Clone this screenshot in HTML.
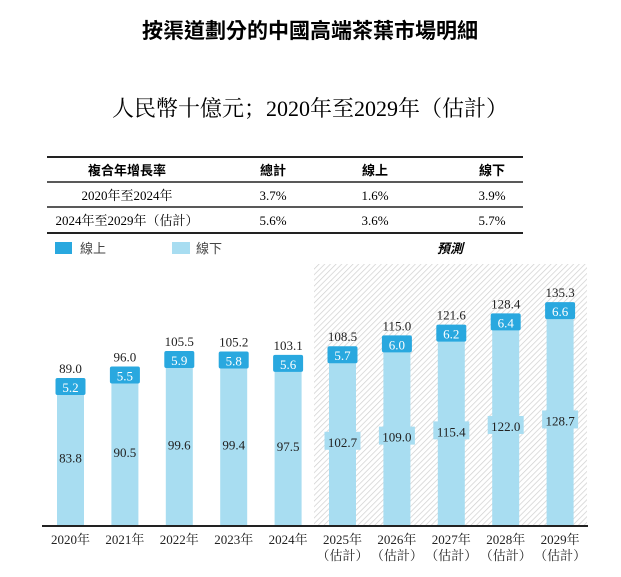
<!DOCTYPE html>
<html><head><meta charset="utf-8">
<style>
body{margin:0;background:#fff;width:621px;height:572px;overflow:hidden;font-family:"Liberation Serif","Noto Serif CJK SC",serif;}
svg text{font-family:"Liberation Serif","Noto Serif CJK SC",serif;}
.cjk{font-family:"Liberation Sans","Noto Sans CJK TC",sans-serif;}
</style></head>
<body>
<svg width="621" height="572" xmlns="http://www.w3.org/2000/svg">
<defs>
<pattern id="hatch" width="4" height="4" patternUnits="userSpaceOnUse" patternTransform="rotate(45)">
<rect width="4" height="4" fill="#fff"/><line x1="0" y1="0" x2="0" y2="4" stroke="#cfcfcf" stroke-width="1.4"/>
</pattern>
</defs>
<text x="310" y="38" text-anchor="middle" font-size="21" font-weight="bold" class="cjk">按渠道劃分的中國高端茶葉市場明細</text>
<text x="310" y="116" text-anchor="middle" font-size="22">人民幣十億元；2020年至2029年（估計）</text>
<g>
<line x1="47" y1="157" x2="523" y2="157" stroke="#222" stroke-width="2"/>
<line x1="47" y1="182" x2="523" y2="182" stroke="#222" stroke-width="1.5"/>
<line x1="47" y1="207" x2="523" y2="207" stroke="#222" stroke-width="1.5"/>
<line x1="47" y1="233" x2="523" y2="233" stroke="#222" stroke-width="2"/>
<g class="cjk" font-size="13" font-weight="bold" text-anchor="middle">
<text x="127" y="175" class="cjk">複合年增長率</text><text x="273" y="175" class="cjk">總計</text><text x="375" y="175" class="cjk">線上</text><text x="492" y="175" class="cjk">線下</text>
</g>
<g font-size="13" text-anchor="middle">
<text x="127" y="200">2020年至2024年</text><text x="273" y="200">3.7%</text><text x="375" y="200">1.6%</text><text x="492" y="200">3.9%</text>
<text x="127" y="225">2024年至2029年（估計）</text><text x="273" y="225">5.6%</text><text x="375" y="225">3.6%</text><text x="492" y="225">5.7%</text>
</g>
</g>
<g>
<rect x="55" y="242" width="17" height="12" fill="#29a8df"/>
<text x="80" y="253" font-size="13" class="cjk" fill="#444">線上</text>
<rect x="172" y="242" width="18" height="12" fill="#a8ddf1"/>
<text x="196" y="253" font-size="13" class="cjk" fill="#444">線下</text>
</g>
<rect x="314" y="264" width="273" height="262" fill="url(#hatch)"/>
<text x="450" y="253" font-size="13" font-weight="bold" font-style="italic" text-anchor="middle" class="cjk">預測</text>
<g id="bars"></g>
<line x1="42" y1="526" x2="588" y2="526" stroke="#222" stroke-width="2"/>
</svg>
<script>
const categories=["2020年","2021年","2022年","2023年","2024年","2025年","2026年","2027年","2028年","2029年"];
const estimated=[false,false,false,false,false,true,true,true,true,true];
const online=[5.2,5.5,5.9,5.8,5.6,5.7,6.0,6.2,6.4,6.6];
const offline=[83.8,90.5,99.6,99.4,97.5,102.7,109.0,115.4,122.0,128.7];
const totals=[89.0,96.0,105.5,105.2,103.1,108.5,115.0,121.6,128.4,135.3];
const NS="http://www.w3.org/2000/svg";
const g=document.getElementById('bars');
const base=526,scale=1.64,x0=70.5,step=54.4,bw=27;
const y=v=>base-v*scale;
const xc=i=>x0+i*step;
function mk(t,a){const e=document.createElementNS(NS,t);for(const k in a)e.setAttribute(k,a[k]);g.appendChild(e);return e;}
categories.forEach((c,i)=>{
  const cx=xc(i);
  const off=mk('rect',{x:cx-bw/2,y:y(offline[i]),width:bw,height:offline[i]*scale,fill:'#a8ddf1'});
  
  
  const top=y(offline[i]+online[i]);
  const on=mk('rect',{x:cx-bw/2,y:top,width:bw,height:online[i]*scale,fill:'#29a8df'});
  
  
  const box=mk('rect',{x:cx-15,y:top-2,width:30,height:17,rx:2,fill:'#29a8df'});
  
  
  const ot=mk('text',{x:cx,y:top+12,'text-anchor':'middle','font-size':13,fill:'#fff'});ot.textContent=online[i].toFixed(1);
  
  
  const tt=mk('text',{x:cx,y:top-7,'text-anchor':'middle','font-size':13,fill:'#222'});tt.textContent=totals[i].toFixed(1);
  
  
  const my=(base+y(offline[i]))/2;
  if(estimated[i]){const b=mk('rect',{x:cx-18,y:my-10,width:36,height:18,fill:'#a8ddf1'});
    
    }
  const ft=mk('text',{x:cx,y:my+5,'text-anchor':'middle','font-size':13,fill:'#222'});ft.textContent=offline[i].toFixed(1);
  
  
  const xl=mk('text',{x:cx,y:544,'text-anchor':'middle','font-size':13,fill:'#222'});xl.textContent=c;
  
  
  if(estimated[i]){const e=mk('text',{x:cx,y:560,'text-anchor':'middle','font-size':13,fill:'#222'});e.textContent='（估計）';
    
    }
});
</script>
</body></html>
